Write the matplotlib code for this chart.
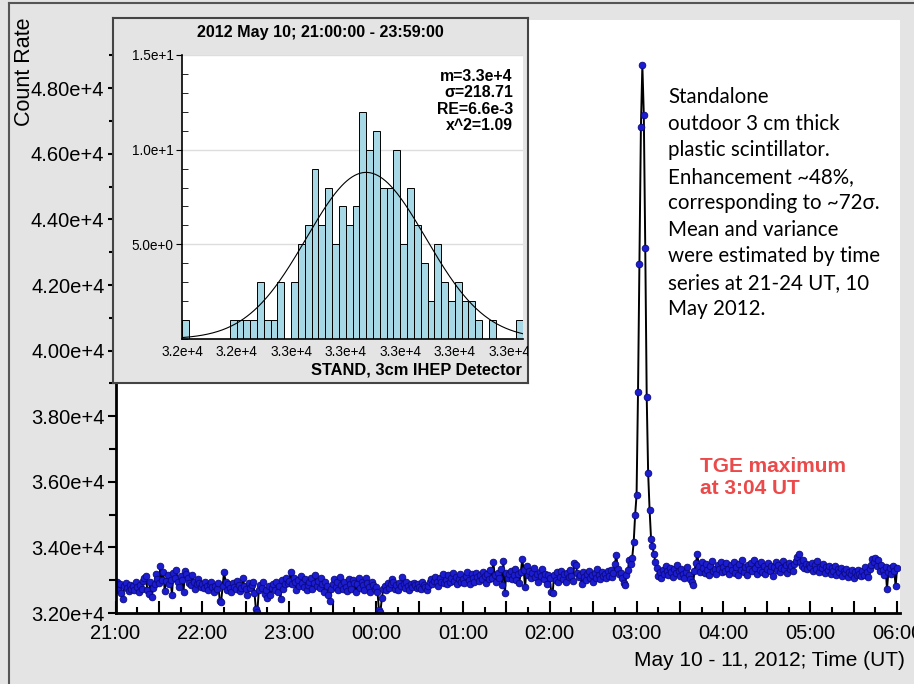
import numpy as np
import matplotlib.pyplot as plt
from matplotlib.ticker import MultipleLocator, FixedLocator, FuncFormatter
from matplotlib.lines import Line2D

plt.rcParams["font.family"] = ["Liberation Sans", "DejaVu Sans"]

# count rate, one value per minute, 21:00 UT (10 May) to 06:00 UT (11 May)
h21 = [32790, 32950, 32700, 32880, 32620, 32420, 32810, 32900, 32750, 32680,
       32860, 32740, 32820, 32690, 32930, 32780, 32640, 32850, 32720, 32980,
       33060, 33120, 32700, 32580, 32950, 32480, 32760, 32880, 33180, 33050,
       32920, 33420, 33010, 33260, 32680, 32990, 33150, 32870, 33020, 32560,
       33220, 33080, 33310, 32950, 32780, 33130, 33020, 32650, 33290, 33180,
       33070, 32900, 32840, 33150, 32960, 32720, 32880, 33050, 32910, 32780]
h22 = [32870, 32760, 32930, 32810, 32700, 32880, 32950, 32790, 32640, 32830,
       32720, 32900, 32380, 32350, 32820, 33260, 32960, 32700, 32880, 32760,
       32640, 32910, 32800, 32720, 32990, 32850, 32680, 32770, 33060, 32820,
       32740, 32560, 32900, 32760, 32840, 32950, 32620, 32110, 32040, 32690,
       32860, 32750, 32930, 32580, 32690, 32470, 32820, 32540, 32760, 32880,
       32700, 32950, 32640, 32810, 32430, 33010, 32740, 32880, 33060, 32920]
h23 = [32980, 33250, 32870, 33060, 32940, 32700, 33010, 32830, 33120, 32900,
       32780, 33040, 32690, 32860, 32950, 33080, 32720, 32910, 33150, 32830,
       32990, 32760, 33070, 32880, 32640, 32960, 32810, 32550, 32360, 32720,
       32890, 33050, 32780, 32930, 32690, 33110, 32850, 32720, 32960, 32800,
       32670, 33040, 32880, 32730, 33010, 32920, 32640, 32870, 33080, 32760,
       32930, 32850, 32690, 33070, 32900, 32780, 32650, 32960, 32840, 32720]
h00 = [32780, 32640, 32100, 32020, 32450, 32720, 32830, 32690, 32910, 32770,
       32880, 33050, 32960, 32740, 32850, 32690, 32920, 32810, 33100, 32880,
       32760, 32940, 32830, 32700, 32870, 32790, 32910, 32840, 32760, 32880,
       32800, 32720, 32940, 32860, 32780, 32690, 32810, 32930, 33050, 32870,
       32990, 33110, 32950, 32820, 33080, 32960, 33180, 32900, 33020, 32870,
       33150, 32940, 33060, 33210, 32980, 33110, 32870, 33040, 33190, 32960]
h01 = [33050, 32920, 33140, 33260, 33010, 32880, 33180, 33070, 32950, 33220,
       33110, 32980, 33170, 33040, 33260, 33120, 32900, 33180, 33050, 33300,
       33080, 33560, 33150, 32950, 33210, 33080, 33340, 32860, 33580, 32600,
       33230, 33060, 33180, 33290, 33040, 33160, 33350, 33020, 33190, 32920,
       33240, 33640, 33310, 32780, 33420, 33150, 33280, 33060, 33210, 33370,
       33090, 33180, 32960, 33240, 33120, 33330, 33030, 33200, 32870, 33150]
h02 = [33080, 32650, 32600, 33150, 33020, 33240, 32960, 33110, 33280, 33050,
       33180, 32930, 33220, 33090, 33300, 33140, 32980, 33520, 33470, 33230,
       33090, 33160, 32890, 33240, 33100, 33010, 33180, 33290, 33060, 33150,
       32950, 33210, 33080, 33330, 33170, 33040, 33250, 33120, 33190, 33060,
       33270, 33140, 33310, 33090, 33220, 33500, 33770, 33350, 33180, 33230,
       33080, 32920, 32850, 33150, 33310, 33610, 33480, 33690, 34150, 34985]
h03 = [35600, 38740, 42630, 46815, 48700, 47190, 43140, 38600, 36265, 35140,
       34270, 34030, 33800, 33550, 33380, 33120, 33250, 33060, 33310, 33180,
       33420, 33290, 33150, 33370, 33240, 33100, 33330, 33210, 33460, 33290,
       33140, 33350, 33200, 33080, 33260, 33390, 33150, 33050, 32950, 32860,
       33280, 33530, 33800, 33420, 33250, 33560, 33380, 33230, 33490, 33310,
       33170, 33440, 33600, 33280, 33350, 33190, 33470, 33330, 33560, 33240]
h04 = [33410, 33280, 33520, 33350, 33190, 33460, 33300, 33570, 33230, 33400,
       33150, 33480, 33320, 33610, 33260, 33390, 33170, 33450, 33340, 33520,
       33280, 33620, 33370, 33200, 33490, 33310, 33560, 33250, 33430, 33180,
       33350, 33510, 33280, 33440, 33130, 33390, 33560, 33300, 33470, 33240,
       33380, 33590, 33330, 33460, 33210, 33520, 33350, 33420, 33280, 33490,
       33600, 33700, 33800, 33540, 33420, 33610, 33380, 33500, 33330, 33450]
h05 = [33400, 33520, 33290, 33460, 33340, 33580, 33250, 33410, 33370, 33480,
       33220, 33390, 33310, 33440, 33180, 33360, 33270, 33420, 33150, 33330,
       33250, 33380, 33120, 33290, 33210, 33350, 33090, 33260, 33180, 33310,
       33060, 33240, 33150, 33300, 33200, 33120, 33280, 33170, 33390, 33250,
       33100, 33330, 33460, 33650, 33540, 33680, 33420, 33620, 33280, 33450,
       33320, 33170, 33400, 32730, 33250, 33360, 33180, 33430, 33290, 32820]
h06 = [33380]

counts = h21 + h22 + h23 + h00 + h01 + h02 + h03 + h04 + h05 + h06
minutes = np.arange(len(counts))  # minutes after 21:00 UT

hour_labels = ["21:00", "22:00", "23:00", "00:00", "01:00",
               "02:00", "03:00", "04:00", "05:00", "06:00"]
y_ticks = [32000, 34000, 36000, 38000, 40000, 42000, 44000, 46000, 48000]

# inset histogram of 21:00 - 23:59 counts
hist_start = 32200
hist_bin = 25
hist_counts = [1, 0, 0, 0, 0, 0, 0,
               1, 1, 1, 1, 3, 1, 1, 3, 0, 3,
               5, 6, 9, 6, 8, 5, 7, 6, 7, 12,
               10, 11, 8, 8, 10, 5, 8, 6, 4, 2,
               5, 3, 2, 3, 2, 2, 1, 0, 1,
               0, 0, 0, 1]
hist_xticks = [32200, 32400, 32600, 32800, 33000, 33200, 33400]
fit_mean = 32875
fit_sigma = 218.71
fit_peak = 8.8

bg = "#e4e4e4"
fig = plt.figure(figsize=(9.14, 6.84), dpi=100, facecolor=bg)

# frame lines of the panel
fig.add_artist(Line2D([9 / 914, 1], [1 - 3 / 684, 1 - 3 / 684], color="#555555", lw=1.5))
fig.add_artist(Line2D([9 / 914, 9 / 914], [0, 1 - 3 / 684], color="#555555", lw=1.5))

# main time series
ax = fig.add_axes([115.5 / 914, 71 / 684, 784.5 / 914, 593 / 684])
ax.set_facecolor("white")
ax.plot(minutes, counts, color="black", lw=1.4, marker="o", ms=4.8,
        mfc="#1c1cd0", mec="#0a0a80", mew=0.6)
ax.set_xlim(0, 542)
ax.set_ylim(32000, 50080)
for s in ["top", "right"]:
    ax.spines[s].set_visible(False)
ax.spines["left"].set_linewidth(2)
ax.spines["bottom"].set_linewidth(2)

ax.yaxis.set_major_locator(FixedLocator(y_ticks))
ax.yaxis.set_minor_locator(FixedLocator([v + 1000 for v in y_ticks]))
ax.yaxis.set_major_formatter(FuncFormatter(lambda v, p: f"{v / 1e4:.2f}e+4"))
ax.tick_params(axis="y", which="major", direction="out", length=6, width=1.5,
               labelsize=14.5, pad=2)
ax.tick_params(axis="y", which="minor", direction="out", length=5, width=1.5)

ax.xaxis.set_major_locator(MultipleLocator(30))
ax.xaxis.set_minor_locator(MultipleLocator(15))
ax.xaxis.set_major_formatter(FuncFormatter(
    lambda v, p: hour_labels[int(v) // 60] if int(v) % 60 == 0 and int(v) // 60 < len(hour_labels) else ""))
ax.tick_params(axis="x", which="major", direction="in", length=9, width=1.5,
               labelsize=14.5, pad=8)
ax.tick_params(axis="x", which="minor", direction="in", length=4, width=1.5)

fig.text(25 / 914, 1 - 18 / 684, "Count Rate", rotation=90, ha="center", va="top",
         fontsize=15.5)
fig.text(905 / 914, 1 - 660 / 684, "May 10 - 11, 2012; Time (UT)", ha="right",
         va="center", fontsize=15)

fig.text(668 / 914, 1 - 87 / 684,
         "Standalone\noutdoor 3 cm thick\nplastic scintillator.\nEnhancement ~48%,\n"
         "corresponding to ~72\u03c3.\nMean and variance\nwere estimated by time\n"
         "series at 21-24 UT, 10\nMay 2012.",
         ha="left", va="top", fontsize=14.8, family="Lato", linespacing=1.41)
fig.text(700 / 914, 1 - 457 / 684, "TGE maximum\nat 3:04 UT", ha="left", va="top",
         fontsize=15, fontweight="bold", color="#ec4a4a", linespacing=1.2)

# inset box
ax_box = fig.add_axes([113 / 914, 1 - 383 / 684, 415 / 914, 365 / 684])
ax_box.set_facecolor(bg)
ax_box.set_xticks([])
ax_box.set_yticks([])
for s in ax_box.spines.values():
    s.set_color("#444444")
    s.set_linewidth(1.5)
ax_box.text(0.5, 1 - 15 / 365, "2012 May 10; 21:00:00 - 23:59:00", transform=ax_box.transAxes,
            ha="center", va="center", fontsize=11.6, fontweight="bold")

ax_h = fig.add_axes([182 / 914, 1 - 339 / 684, 341 / 914, 284 / 684])
ax_h.set_facecolor("white")
edges = hist_start + hist_bin * np.arange(len(hist_counts))
ax_h.bar(edges, hist_counts, width=hist_bin, align="edge", color="#a6d8e6",
         edgecolor="black", linewidth=0.7, zorder=2)
xf = np.linspace(hist_start, hist_start + hist_bin * len(hist_counts), 400)
ax_h.plot(xf, fit_peak * np.exp(-0.5 * ((xf - fit_mean) / fit_sigma) ** 2),
          color="black", lw=0.8, zorder=3)
ax_h.set_xlim(hist_start, hist_start + hist_bin * len(hist_counts))
ax_h.set_ylim(0, 15)
for s in ["top", "right"]:
    ax_h.spines[s].set_visible(False)
ax_h.spines["left"].set_linewidth(1.2)
ax_h.spines["bottom"].set_linewidth(1.2)
ax_h.set_yticks([5, 10, 15])
ax_h.yaxis.set_major_formatter(FuncFormatter(lambda v, p: f"{v / 10:.1f}e+1" if v >= 10 else f"{v:.1f}e+0"))
ax_h.yaxis.set_minor_locator(MultipleLocator(1))
ax_h.tick_params(axis="y", which="major", direction="out", length=4, labelsize=9.8, pad=2)
ax_h.tick_params(axis="y", which="minor", direction="in", length=4)
ax_h.grid(axis="y", which="major", color="#dddddd", lw=1, zorder=0)
ax_h.set_axisbelow(True)
ax_h.xaxis.set_major_locator(FixedLocator(hist_xticks))
ax_h.xaxis.set_major_formatter(FuncFormatter(lambda v, p: f"{v / 1e4:.1f}e+4"))
ax_h.tick_params(axis="x", length=0, labelsize=9.8, pad=4)
for lab in ax_h.get_xticklabels():
    lab.set_clip_on(True)
    lab.set_clip_path(ax_box.patch)

ax_h.text(0.97, 0.95, "m=3.3e+4\n\u03c3=218.71\nRE=6.6e-3\nx^2=1.09", transform=ax_h.transAxes,
          ha="right", va="top", fontsize=11.4, fontweight="bold", linespacing=1.1)
ax_box.text(1 - 6 / 415, 13 / 365, "STAND, 3cm IHEP Detector", transform=ax_box.transAxes,
            ha="right", va="center", fontsize=11.8, fontweight="bold")

fig.savefig("out.png", dpi=100, facecolor=bg)
